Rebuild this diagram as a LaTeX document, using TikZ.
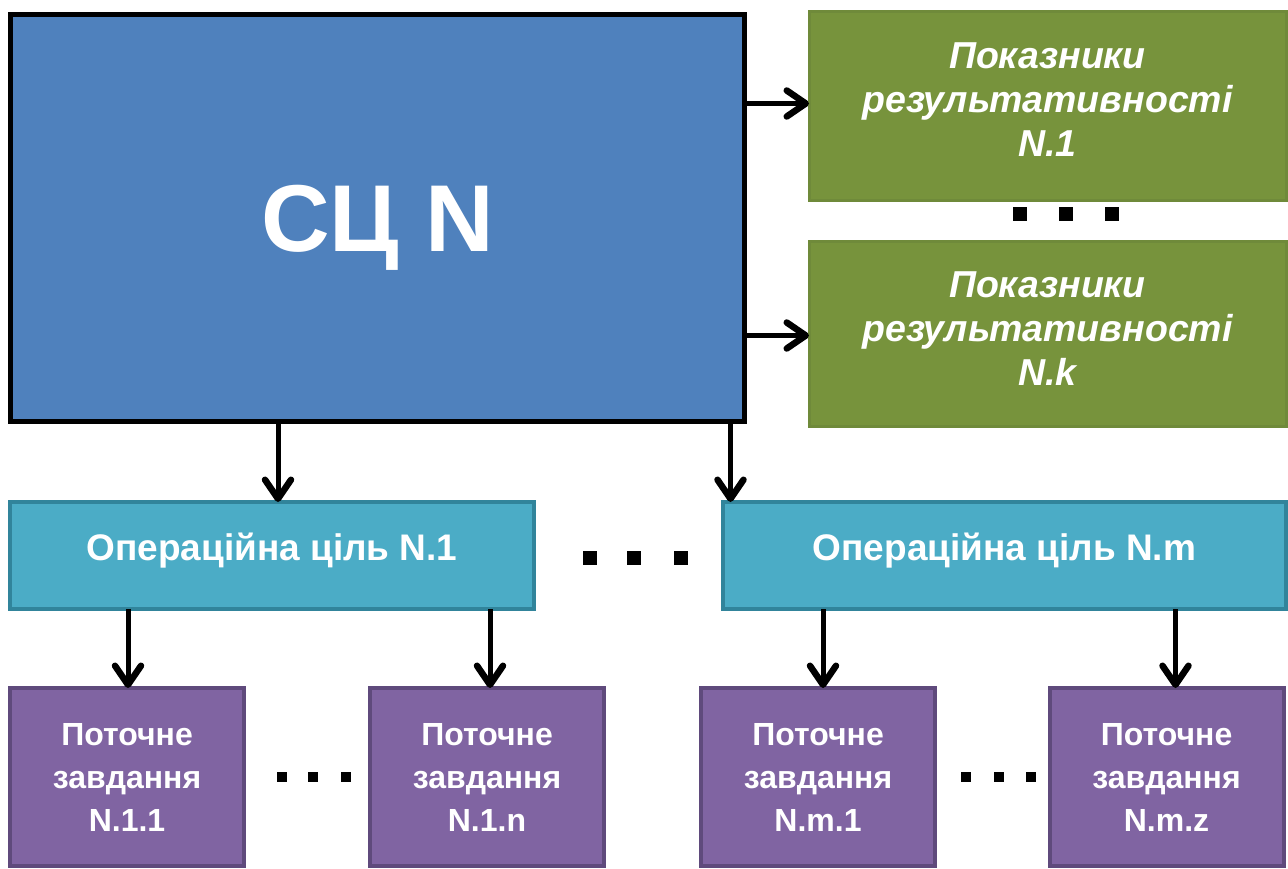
\documentclass[tikz,border=0pt]{standalone}
\usepackage{fontspec}
\setmainfont{Liberation Sans}
\usetikzlibrary{arrows.meta}
\definecolor{blueF}{HTML}{4F81BD}
\definecolor{greenF}{HTML}{77933C}
\definecolor{greenD}{HTML}{6F8A3A}
\definecolor{tealF}{HTML}{4BACC6}
\definecolor{tealD}{HTML}{31849B}
\definecolor{purpF}{HTML}{8064A2}
\definecolor{purpD}{HTML}{5F4A7C}
\begin{document}
\begin{tikzpicture}[x=1pt,y=-1pt,
  box/.style={rectangle,inner sep=0pt,outer sep=0pt,text=white,align=center},
  bluebox/.style={box,fill=blueF,draw=black,line width=5pt,minimum width=734pt,minimum height=407pt,
    text depth=0pt,font=\bfseries\fontsize{95}{100}\selectfont},
  greenbox/.style={box,fill=greenF,draw=greenD,line width=3pt,minimum width=477pt,
    font=\bfseries\itshape\fontsize{37.5}{44}\selectfont},
  tealbox/.style={box,fill=tealF,draw=tealD,line width=4pt,minimum height=107pt,
    text depth=17pt,font=\bfseries\fontsize{37}{40}\selectfont},
  purpbox/.style={box,fill=purpF,draw=purpD,line width=4pt,minimum width=234pt,minimum height=178pt,
    font=\bfseries\fontsize{32}{43}\selectfont},
  arr/.style={line width=5pt,-{Straight Barb[length=19pt,width=26pt,round,line width=6.5pt]}},
  dot/.style={fill=black}
]
\useasboundingbox (0,0) rectangle (1288,868);
% main block
\node[bluebox] (scn) at (377.5,218) {СЦ N};
% indicators
\node[greenbox,minimum height=189pt,text depth=12pt] (g1) at (1047.5,105.5) {Показники\\результативності\\N.1};
\node[greenbox,minimum height=185pt,text depth=9pt] (g2) at (1047.5,333.5) {Показники\\результативності\\N.k};
% operational goals
\node[tealbox,minimum width=524pt] (op1) at (272,555.5) {Операційна ціль N.1};
\node[tealbox,minimum width=563pt] (op2) at (1004.5,555.5) {Операційна ціль N.m};
% tasks
\node[purpbox] (p1) at (127,777) {Поточне\\завдання\\N.1.1};
\node[purpbox] (p2) at (487,777) {Поточне\\завдання\\N.1.n};
\node[purpbox] (p3) at (818,777) {Поточне\\завдання\\N.m.1};
\node[purpbox] (p4) at (1166.5,777) {Поточне\\завдання\\N.m.z};
% connectors
\draw[arr] ([yshift=2pt]scn.east |- g1.west) -- ([yshift=2pt]g1.west);
\draw[arr] ([yshift=-2pt]scn.east |- g2.west) -- ([yshift=-2pt]g2.west);
\draw[arr] ([xshift=6pt]op1.north |- scn.south) -- ([xshift=6pt]op1.north);
\draw[arr] ([xshift=-14pt]scn.south east) -- ([xshift=-14pt]scn.south east |- op2.north);
\draw[arr] ([xshift=1pt]p1.north |- op1.south) -- ([xshift=1pt]p1.north);
\draw[arr] ([xshift=3pt]p2.north |- op1.south) -- ([xshift=3pt]p2.north);
\draw[arr] ([xshift=5pt]p3.north |- op2.south) -- ([xshift=5pt]p3.north);
\draw[arr] ([xshift=9pt]p4.north |- op2.south) -- ([xshift=9pt]p4.north);
% ellipses
\foreach \x in {1020,1066,1112} \fill[dot] (\x-7,207) rectangle (\x+7,221);
\foreach \x in {590,634,681} \fill[dot] (\x-7,551) rectangle (\x+7,565);
\foreach \x in {282,313,346,966,999,1031} \fill[dot] (\x-5,772) rectangle (\x+5,782);
\end{tikzpicture}
\end{document}
